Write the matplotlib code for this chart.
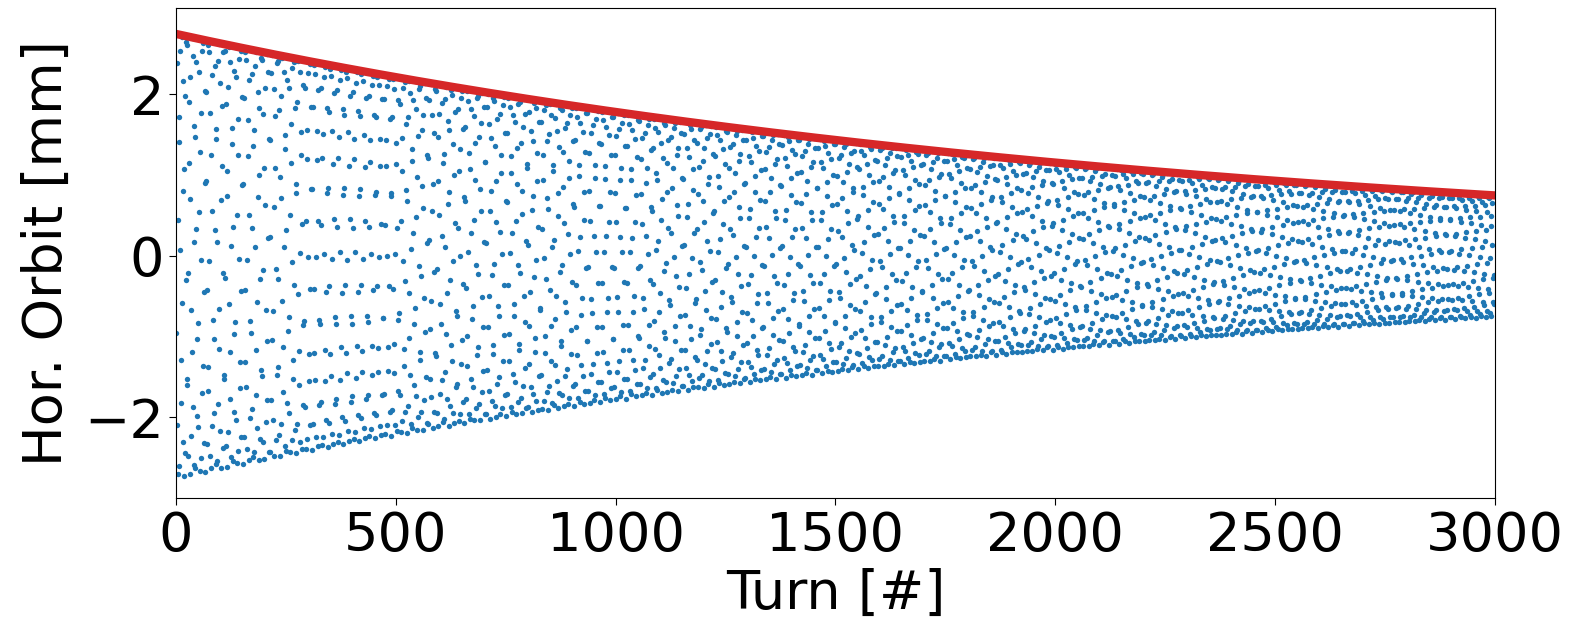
import numpy as np
import matplotlib.pyplot as plt

# turn-by-turn BPM reading, described by its fitted parameters
n_turns = 3000
amp0 = 2.75        # mm, initial amplitude
tau = 2309.0       # turns, damping time
tune0 = 0.304385   # fractional horizontal tune at zero amplitude
detune = 2.17e-4   # tune shift per mm^2 of amplitude

turns = np.arange(n_turns)
envelope = amp0 * np.exp(-turns / tau)
tune = tune0 + detune * envelope**2
phase = 2 * np.pi * np.concatenate([[0.0], np.cumsum(tune[:-1])])
orbit = envelope * np.cos(phase)

fig = plt.figure(figsize=(15.91, 6.22), dpi=100)
ax = fig.add_axes([0.1106, 0.199, 0.829, 0.788])

ax.scatter(turns, orbit, s=15, color='tab:blue', linewidths=0)
ax.plot(turns, envelope, color='tab:red', lw=6)

ax.set_xlim(0, 3000)
ax.set_ylim(-3.0, 3.07)
ax.set_yticks([-2, 0, 2])
ax.set_xticks([0, 500, 1000, 1500, 2000, 2500, 3000])
ax.tick_params(labelsize=39, length=5)
ax.set_xlabel('Turn [#]', fontsize=39, labelpad=4)
ax.set_ylabel('Hor. Orbit [mm]', fontsize=39, labelpad=8)

fig.savefig("out.png")
